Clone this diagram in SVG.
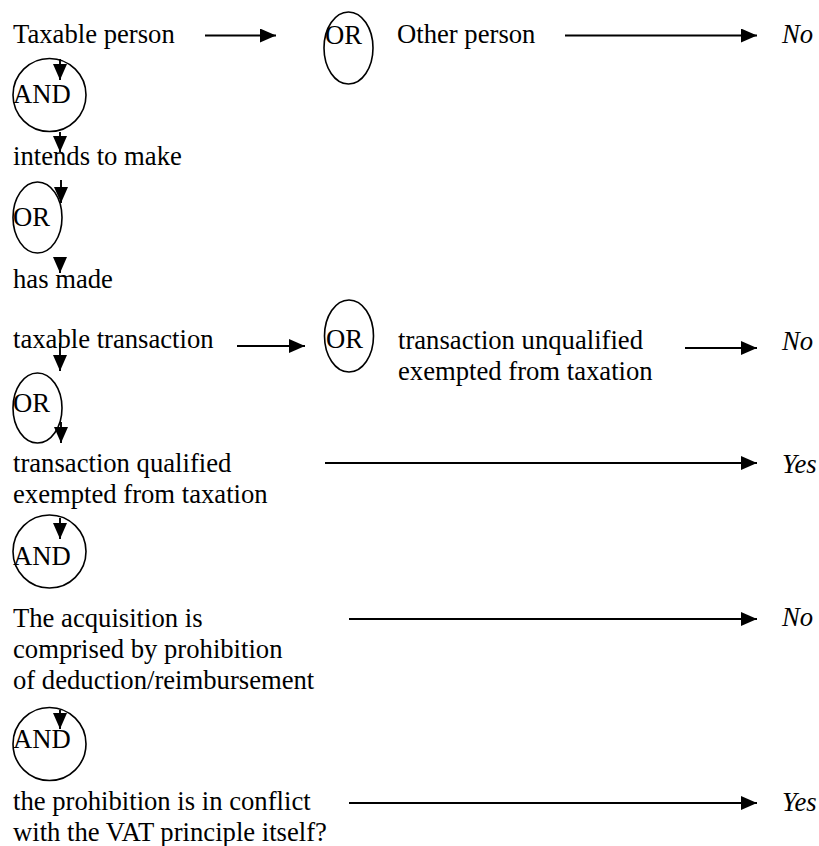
<svg xmlns="http://www.w3.org/2000/svg" width="819" height="846" viewBox="0 0 819 846" font-family="'Times New Roman', 'Liberation Serif', Tinos, serif">
<defs>
<marker id="ah" markerUnits="userSpaceOnUse" markerWidth="17" markerHeight="15" refX="16" refY="7" orient="auto">
<path d="M0,0 L16,7 L0,14 z" fill="#000"/>
</marker>
<style>
text{font-family:'Times New Roman','Liberation Serif',Tinos,serif;font-size:26.67px;fill:#000}
.it{font-style:italic}
.gate{fill:none;stroke:#000;stroke-width:1.6}
.c{stroke:#000;stroke-width:1.9;fill:none;marker-end:url(#ah)}
</style>
</defs>
<rect width="819" height="846" fill="#fff"/>
<g id="connectors">
<line class="c" x1="205" y1="35.5" x2="276" y2="35.5"/>
<line class="c" x1="565" y1="35.5" x2="757" y2="35.5"/>
<line class="c" x1="60" y1="59" x2="60" y2="80"/>
<line class="c" x1="60" y1="132" x2="60" y2="152"/>
<line class="c" x1="61" y1="180" x2="61" y2="203"/>
<line class="c" x1="60" y1="257" x2="60" y2="273"/>
<line class="c" x1="237" y1="346" x2="305" y2="346"/>
<line class="c" x1="685" y1="348" x2="757" y2="348"/>
<line class="c" x1="60" y1="343" x2="60" y2="371"/>
<line class="c" x1="61" y1="422" x2="61" y2="443"/>
<line class="c" x1="325" y1="463" x2="757" y2="463"/>
<line class="c" x1="60" y1="518" x2="60" y2="539"/>
<line class="c" x1="349" y1="619" x2="757" y2="619"/>
<line class="c" x1="60" y1="710" x2="60" y2="729"/>
<line class="c" x1="349" y1="803" x2="757" y2="803"/>
</g>
<g id="taxable-person"><text x="13" y="43">Taxable person</text></g>
<g id="or1"><ellipse class="gate" cx="348.5" cy="48" rx="24.5" ry="36"/><text x="325" y="44">OR</text></g>
<g id="other-person"><text x="397" y="43">Other person</text></g>
<g id="no1"><text class="it" x="782" y="43">No</text></g>
<g id="and1"><circle class="gate" cx="49.5" cy="95" r="36.5"/><text x="13" y="103">AND</text></g>
<g id="intends"><text x="13" y="165">intends to make</text></g>
<g id="or2"><ellipse class="gate" cx="37.5" cy="217.5" rx="24.5" ry="35.5"/><text x="13" y="226">OR</text></g>
<g id="has-made"><text x="13" y="288">has made</text></g>
<g id="taxable-transaction"><text x="13" y="348">taxable transaction</text></g>
<g id="or3"><ellipse class="gate" cx="349" cy="336" rx="24.5" ry="36"/><text x="326" y="348">OR</text></g>
<g id="unqualified"><text x="398" y="349">transaction unqualified</text><text x="398" y="380">exempted from taxation</text></g>
<g id="no2"><text class="it" x="782" y="350">No</text></g>
<g id="or4"><ellipse class="gate" cx="37.5" cy="408" rx="24.5" ry="35"/><text x="13" y="412">OR</text></g>
<g id="qualified"><text x="13" y="472">transaction qualified</text><text x="13" y="503">exempted from taxation</text></g>
<g id="yes1"><text class="it" x="782" y="473">Yes</text></g>
<g id="and2"><circle class="gate" cx="49.5" cy="551.5" r="36.5"/><text x="13" y="565">AND</text></g>
<g id="acquisition"><text x="13" y="627">The acquisition is</text><text x="13" y="658">comprised by prohibition</text><text x="13" y="689">of deduction/reimbursement</text></g>
<g id="no3"><text class="it" x="782" y="626">No</text></g>
<g id="and3"><circle class="gate" cx="49.5" cy="744" r="36.5"/><text x="13" y="748">AND</text></g>
<g id="conflict"><text x="13" y="810">the prohibition is in conflict</text><text x="13" y="841">with the VAT principle itself?</text></g>
<g id="yes2"><text class="it" x="782" y="811">Yes</text></g>
</svg>
